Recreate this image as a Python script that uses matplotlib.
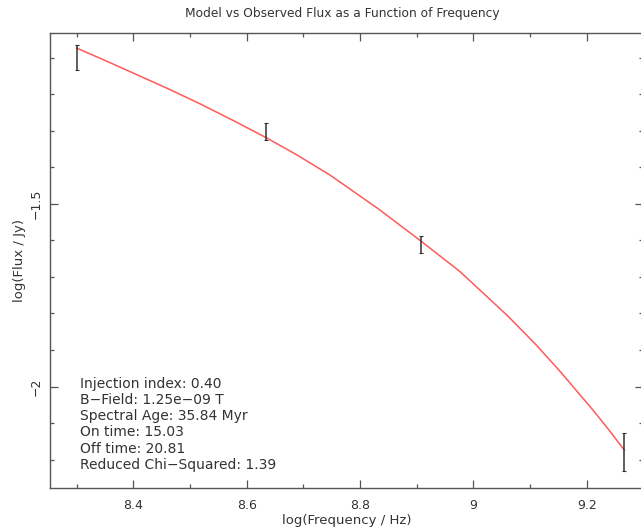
import numpy as np
import matplotlib.pyplot as plt
from matplotlib.ticker import MultipleLocator

# observed points (log frequency, log flux, error)
obs_x = [8.300, 8.634, 8.908, 9.266]
obs_y = [-1.099, -1.301, -1.611, -2.179]
obs_err = [0.034, 0.023, 0.023, 0.052]

# model curve
model_x = [8.300, 8.356, 8.412, 8.465, 8.518, 8.577, 8.635, 8.690, 8.747, 8.830,
           8.906, 8.976, 9.060, 9.110, 9.153, 9.211, 9.240, 9.266]
model_y = [-1.073, -1.111, -1.150, -1.187, -1.226, -1.272, -1.319, -1.367, -1.421, -1.511,
           -1.600, -1.685, -1.806, -1.885, -1.959, -2.065, -2.121, -2.174]

info = ["Injection index: 0.40",
        "B\u2212Field: 1.25e\u221209 T",
        "Spectral Age: 35.84 Myr",
        "On time: 15.03",
        "Off time: 20.81",
        "Reduced Chi\u2212Squared: 1.39"]

fig = plt.figure(figsize=(6.41, 5.32), dpi=100)
ax = fig.add_axes([0.078, 0.082, 0.9251, 0.8565])

ax.plot(model_x, model_y, color='#ff5a5a', lw=1.1, zorder=2)
ax.errorbar(obs_x, obs_y, yerr=obs_err, fmt='none', ecolor='#333333',
            elinewidth=1.1, capsize=1.5, capthick=0.8, zorder=3)

ax.set_xlim(8.253, 9.299)
ax.set_ylim(-2.279, -1.031)

ax.xaxis.set_major_locator(MultipleLocator(0.2))
ax.xaxis.set_minor_locator(MultipleLocator(0.1))
ax.yaxis.set_major_locator(MultipleLocator(0.5))
ax.yaxis.set_minor_locator(MultipleLocator(0.1))
fmt = plt.FuncFormatter(lambda v, p: ('%g' % round(v, 2)).replace('-', '\u2212'))
ax.xaxis.set_major_formatter(fmt)
ax.yaxis.set_major_formatter(fmt)

ax.tick_params(which='both', direction='in', top=True, right=True,
               color='#555555', labelcolor='#333333', labelsize=9)
ax.tick_params(which='major', length=6, width=0.9)
ax.tick_params(axis='x', which='major', pad=8)
ax.tick_params(axis='y', which='major', pad=5)
ax.tick_params(which='minor', length=3, width=0.9)
for lab in ax.get_yticklabels():
    lab.set_rotation(90)
    lab.set_va('center')
for s in ax.spines.values():
    s.set_color('#555555')
    s.set_linewidth(1.0)

ax.set_xlabel('log(Frequency / Hz)', fontsize=9.5, color='#333333', labelpad=1)
ax.set_ylabel('log(Flux / Jy)', fontsize=9.5, color='#333333', labelpad=3)
fig.text(0.534, 0.974, 'Model vs Observed Flux as a Function of Frequency',
         ha='center', va='center', fontsize=8.8, color='#333333')

ax.text(0.051, 0.245, "\n".join(info), transform=ax.transAxes, fontsize=10,
        color='#333333', va='top', ha='left', linespacing=1.2)

fig.savefig('out.png', dpi=100)
